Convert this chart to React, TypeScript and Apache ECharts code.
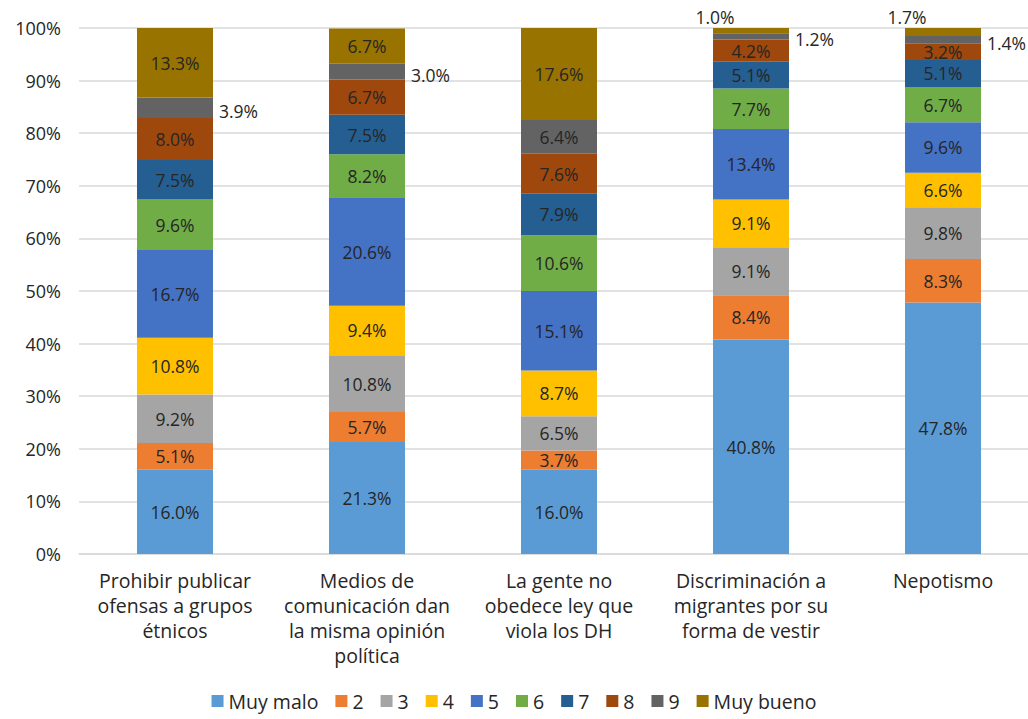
import React, { useEffect, useRef } from "react";
import * as echarts from "echarts";

const categories = [
  "Prohibir publicar\nofensas a grupos\nétnicos",
  "Medios de\ncomunicación dan\nla misma opinión\npolítica",
  "La gente no\nobedece ley que\nviola los DH",
  "Discriminación a\nmigrantes por su\nforma de vestir",
  "Nepotismo",
];

const seriesNames = ["Muy malo", "2", "3", "4", "5", "6", "7", "8", "9", "Muy bueno"];

const muyMalo = [16.0, 21.3, 16.0, 40.8, 47.8];
const s2 = [5.1, 5.7, 3.7, 8.4, 8.3];
const s3 = [9.2, 10.8, 6.5, 9.1, 9.8];
const s4 = [10.8, 9.4, 8.7, 9.1, 6.6];
const s5 = [16.7, 20.6, 15.1, 13.4, 9.6];
const s6 = [9.6, 8.2, 10.6, 7.7, 6.7];
const s7 = [7.5, 7.5, 7.9, 5.1, 5.1];
const s8 = [8.0, 6.7, 7.6, 4.2, 3.2];
const s9 = [3.9, 3.0, 6.4, 1.2, 1.4];
const muyBueno = [13.3, 6.7, 17.6, 1.0, 1.7];

const colors = [
  "#5B9BD5", "#ED7D31", "#A5A5A5", "#FFC000", "#4472C4",
  "#70AD47", "#255E91", "#9E480E", "#636363", "#997300",
];

const FONT = "Open Sans";

export default function App() {
  const ref = useRef<HTMLDivElement>(null);
  useEffect(() => {
    if (!ref.current) return;
    const chart = echarts.init(ref.current, null, { renderer: "svg" });
    const all = [muyMalo, s2, s3, s4, s5, s6, s7, s8, s9, muyBueno];
    const outside9 = [true, true, false, true, true];
    const series = all.map((vals, si) => ({
      name: seriesNames[si],
      type: "bar",
      stack: "total",
      barWidth: 76,
      itemStyle: { color: colors[si] },
      label: {
        show: true,
        position: "inside",
        formatter: (p: any) => p.value.toFixed(1) + "%",
        color: "#262626",
        fontSize: 17.5,
        fontFamily: FONT,
      },
      data: vals.map((v, ci) => {
        if (si === 8 && outside9[ci]) {
          return {
            value: v,
            label: { position: "right", distance: 6, offset: [0, 3] },
          };
        }
        if (si === 9 && v < 3) {
          return {
            value: v,
            label: { position: "top", distance: 2, offset: [-36, 0] },
          };
        }
        return v;
      }),
    }));
    chart.setOption({
      animation: false,
      textStyle: { fontFamily: FONT },
      grid: {
        left: 79,
        top: 28,
        width: 960,
        height: 526,
        containLabel: false,
        outerBoundsMode: "none",
      },
      legend: {
        bottom: 3,
        left: "center",
        itemWidth: 12,
        itemHeight: 12,
        itemGap: 17,
        icon: "rect",
        textStyle: { fontSize: 19.5, color: "#262626", fontFamily: FONT },
        data: seriesNames,
      },
      xAxis: {
        type: "category",
        data: categories,
        axisTick: { show: false },
        axisLine: { lineStyle: { color: "#D9D9D9", width: 1.5 } },
        axisLabel: {
          color: "#262626",
          fontSize: 19.5,
          lineHeight: 25,
          margin: 14,
          fontFamily: FONT,
          interval: 0,
        },
      },
      yAxis: {
        type: "value",
        min: 0,
        max: 100,
        interval: 10,
        axisLine: { show: false },
        axisTick: { show: false },
        splitLine: { lineStyle: { color: "#D9D9D9", width: 1.5 } },
        axisLabel: {
          formatter: "{value}%",
          color: "#262626",
          fontSize: 18,
          margin: 18,
          fontFamily: FONT,
        },
      },
      series,
    });
    return () => chart.dispose();
  }, []);
  return (
    <div
      ref={ref}
      style={{ position: "fixed", left: 0, top: 0, width: 1028, height: 719, background: "#fff" }}
    />
  );
}
